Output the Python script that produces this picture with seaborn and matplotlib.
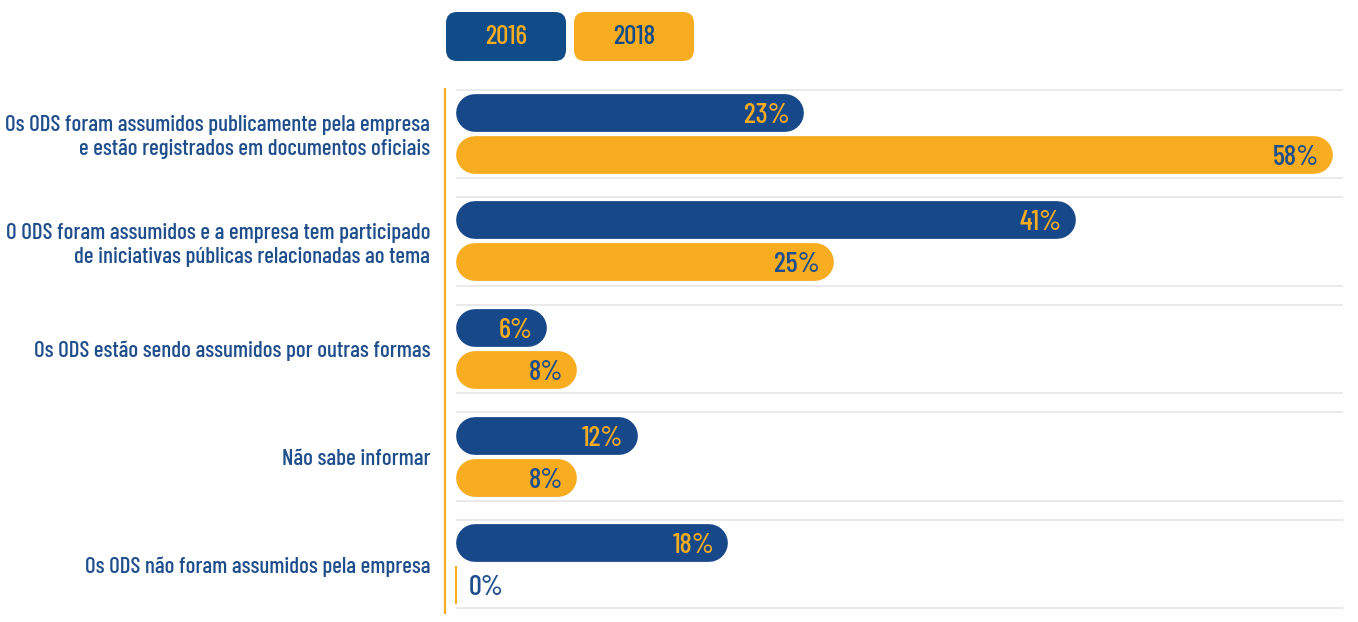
import numpy as np
import pandas as pd
import matplotlib
matplotlib.use("Agg")
import matplotlib.pyplot as plt
from matplotlib.patches import FancyBboxPatch
import seaborn as sns

# data
categorias = [
    "Os ODS foram assumidos publicamente pela empresa\ne estão registrados em documentos oficiais",
    "O ODS foram assumidos e a empresa tem participado\nde iniciativas públicas relacionadas ao tema",
    "Os ODS estão sendo assumidos por outras formas",
    "Não sabe informar",
    "Os ODS não foram assumidos pela empresa",
]
anos = ["2016", "2018"]
pct_2016 = [23, 41, 6, 12, 18]
pct_2018 = [58, 25, 8, 8, 0]

AZUL = "#17488A"
AZUL_LEG = "#0F4C88"
LARANJA = "#F8AC20"
TXT_AZUL = "#1F4E8C"
CINZA = "#E6E6E6"

df = pd.DataFrame({
    "categoria": categorias * 2,
    "ano": [anos[0]] * len(categorias) + [anos[1]] * len(categorias),
    "pct": pct_2016 + pct_2018,
})

sns.set_style("white")
plt.rcParams["font.family"] = ["Barlow Condensed", "DejaVu Sans"]
plt.rcParams["font.weight"] = 500

W, H = 1358, 622
fig = plt.figure(figsize=(W / 100, H / 100), dpi=100)
ax = fig.add_axes([440 / W, 4 / H, 910 / W, 538 / H])

sns.barplot(data=df, y="categoria", x="pct", hue="ano", orient="h",
            palette=[AZUL, LARANJA], saturation=1, width=0.78, gap=0.1,
            legend=False, ax=ax)

xlim = (-16 / 15.12, 894 / 15.12)
ylim = (4.5, -0.5)
ax.set_xlim(*xlim)
ax.set_ylim(*ylim)

# pixels per data unit
px_x = 910 / (xlim[1] - xlim[0])
px_y = 538 / (ylim[0] - ylim[1])

# swap seaborn's rectangles for pill shaped bars (thick line, round caps)
bars = list(ax.patches)
for p in bars:
    x0, y0 = p.get_x(), p.get_y()
    w, h = p.get_width(), p.get_height()
    fc = p.get_facecolor()
    p.remove()
    yc = y0 + h / 2
    is_2016 = np.allclose(fc[:3], matplotlib.colors.to_rgb(AZUL), atol=0.02)
    if w > 0:
        hpx = h * px_y
        r = hpx / 2 / px_x
        ax.plot([x0 + r, x0 + w - r], [yc, yc], color=fc, lw=hpx * 72 / 100,
                solid_capstyle="round", zorder=3)
        ax.text(w - 14 / px_x, yc, f"{w:.0f}%", ha="right", va="center_baseline",
                fontsize=20.5, fontweight=500,
                color=LARANJA if is_2016 else TXT_AZUL, zorder=4)
    else:
        ax.vlines(0, y0, y0 + h, color=fc, lw=1.5, zorder=3)
        ax.text(13 / px_x, yc, f"{w:.0f}%", ha="left", va="center_baseline",
                fontsize=20.5, fontweight=500, color=TXT_AZUL, zorder=4)

# light separators above and below each group
for i in range(len(categorias)):
    ax.hlines([i - 0.41, i + 0.41], 0, 58.66, color=CINZA, lw=1.2, zorder=1)

# orange axis line
ax.vlines(-0.73, -0.43, 4.46, color=LARANJA, lw=1.6, zorder=2)

ax.set_xlabel("")
ax.set_ylabel("")
ax.set_xticks([])
ax.set_yticks(range(len(categorias)))
ax.set_yticklabels(categorias, fontsize=16.5, color=TXT_AZUL, linespacing=1.2)
ax.tick_params(axis="y", length=0, pad=7)
sns.despine(ax=ax, left=True, bottom=True)

# legend boxes at the top
fasp = W / H
for (x, cor, txt_cor, ano) in [(446, AZUL_LEG, LARANJA, anos[0]),
                               (574, LARANJA, AZUL_LEG, anos[1])]:
    bw, bh = 120, 49
    fig.add_artist(FancyBboxPatch((x / W, 1 - 61 / H), bw / W, bh / H,
                                  boxstyle=f"round,pad=0,rounding_size={11 / W}",
                                  mutation_aspect=fasp, transform=fig.transFigure,
                                  fc=cor, ec="none"))
    fig.text((x + bw / 2) / W, 1 - 37 / H, ano, ha="center", va="center",
             fontsize=19.5, color=txt_cor)

fig.savefig("out.png", dpi=100)
